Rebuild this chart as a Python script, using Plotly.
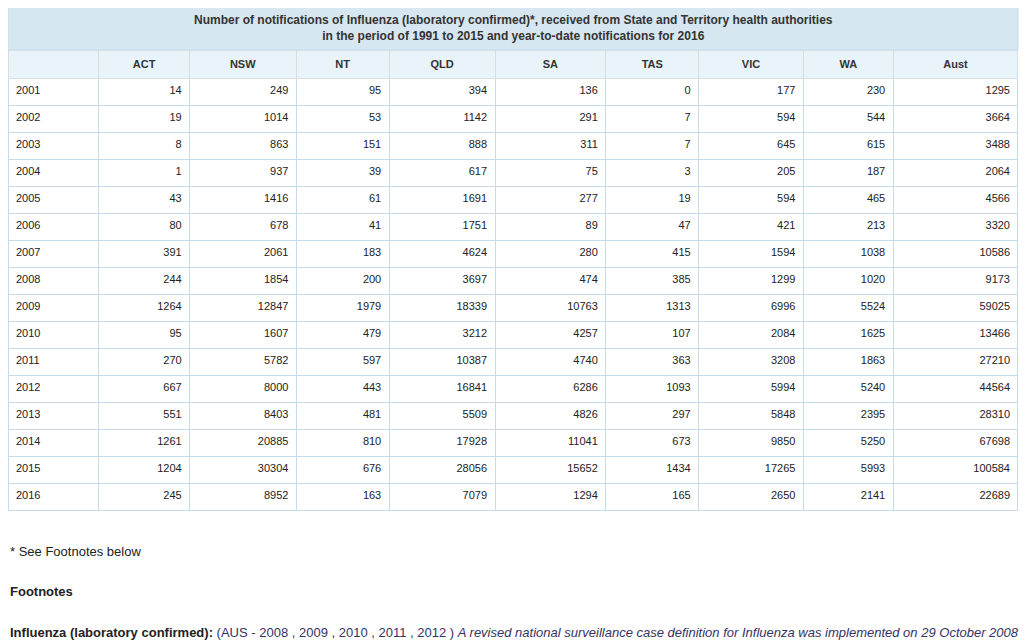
import plotly.graph_objects as go

# table data
years = ["2001", "2002", "2003", "2004", "2005", "2006", "2007", "2008",
         "2009", "2010", "2011", "2012", "2013", "2014", "2015", "2016"]
states = ["ACT", "NSW", "NT", "QLD", "SA", "TAS", "VIC", "WA", "Aust"]

act = [14, 19, 8, 1, 43, 80, 391, 244, 1264, 95, 270, 667, 551, 1261, 1204, 245]
nsw = [249, 1014, 863, 937, 1416, 678, 2061, 1854, 12847, 1607, 5782, 8000, 8403, 20885, 30304, 8952]
nt = [95, 53, 151, 39, 61, 41, 183, 200, 1979, 479, 597, 443, 481, 810, 676, 163]
qld = [394, 1142, 888, 617, 1691, 1751, 4624, 3697, 18339, 3212, 10387, 16841, 5509, 17928, 28056, 7079]
sa = [136, 291, 311, 75, 277, 89, 280, 474, 10763, 4257, 4740, 6286, 4826, 11041, 15652, 1294]
tas = [0, 7, 7, 3, 19, 47, 415, 385, 1313, 107, 363, 1093, 297, 673, 1434, 165]
vic = [177, 594, 645, 205, 594, 421, 1594, 1299, 6996, 2084, 3208, 5994, 5848, 9850, 17265, 2650]
wa = [230, 544, 615, 187, 465, 213, 1038, 1020, 5524, 1625, 1863, 5240, 2395, 5250, 5993, 2141]
aust = [1295, 3664, 3488, 2064, 4566, 3320, 10586, 9173, 59025, 13466, 27210, 44564, 28310, 67698, 100584, 22689]

title_text = ("<b>Number of notifications of Influenza (laboratory confirmed)*, "
              "received from State and Territory health authorities<br>"
              "in the period of 1991 to 2015 and year-to-date notifications for 2016</b>")

# the page body has an 8px margin, so the figure is a bit smaller than the window
OFF = 8
W, H = 1031 - OFF, 644 - OFF
col_widths = [91, 91, 107, 93, 106, 111, 93, 105, 90, 125]

FONT = "Liberation Sans, Arial, sans-serif"
LINE = "#c5dcec"

def px_x(v):
    return max(v - OFF, 0) / W

def px_y(v):
    return 1 - (v - OFF) / H

xl, xr = px_x(6), px_x(1018)

fig = go.Figure()

columns = [years] + [[str(v) for v in s] for s in (act, nsw, nt, qld, sa, tas, vic, wa, aust)]

fig.add_trace(go.Table(
    domain=dict(x=[xl, xr], y=[px_y(512), px_y(50)]),
    columnwidth=col_widths,
    header=dict(values=[""] + ["<b>%s</b>" % s for s in states], height=28,
                align="center", fill_color="#e9f3fa", line_color="#d8dde2",
                font=dict(family=FONT, size=11, color="#333333")),
    cells=dict(values=columns, height=27,
               align=["left"] + ["right"] * 9,
               fill_color="white", line_color=LINE,
               font=dict(family=FONT, size=11, color="#222222")),
))

# merged title band above the table
fig.add_shape(type="rect", xref="paper", yref="paper",
              x0=xl, x1=xr, y0=px_y(50), y1=px_y(6),
              fillcolor="#d6e7f1", line=dict(color=LINE, width=1), layer="below")
fig.add_annotation(x=(xl + xr) / 2, y=px_y(28), xref="paper", yref="paper",
                   xanchor="center", yanchor="middle", showarrow=False,
                   align="center", text=title_text,
                   font=dict(family=FONT, size=12, color="#333333"))

fig.add_annotation(x=xl, y=px_y(551), xref="paper", yref="paper",
                   xanchor="left", yanchor="middle", showarrow=False,
                   text="* See Footnotes below",
                   font=dict(family=FONT, size=13, color="#222222"))
fig.add_annotation(x=xl, y=px_y(591), xref="paper", yref="paper",
                   xanchor="left", yanchor="middle", showarrow=False,
                   text="<b>Footnotes</b>",
                   font=dict(family=FONT, size=13, color="#222222"))
fig.add_annotation(x=xl, y=px_y(632), xref="paper", yref="paper",
                   xanchor="left", yanchor="middle", showarrow=False,
                   text=("<b>Influenza (laboratory confirmed):</b> "
                         "<span style='color:#333366'>(AUS - 2008 , 2009 , 2010 , 2011 , 2012 ) "
                         "<i>A revised national surveillance case definition for Influenza "
                         "was implemented on 29 October 2008</i></span>"),
                   font=dict(family=FONT, size=13, color="#222222"))

fig.update_layout(width=W, height=H, margin=dict(l=0, r=0, t=0, b=0),
                  paper_bgcolor="white", plot_bgcolor="white",
                  font=dict(family=FONT))

fig.write_html("out.html")
